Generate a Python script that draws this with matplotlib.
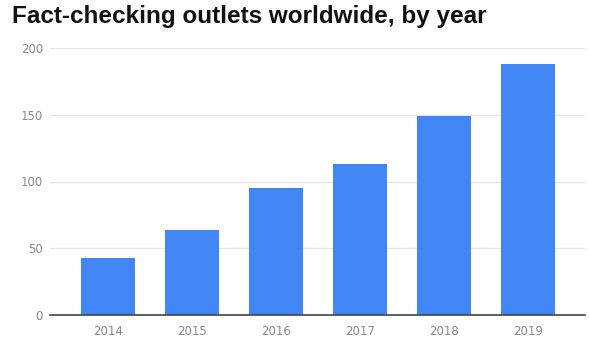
import matplotlib.pyplot as plt

years = ['2014', '2015', '2016', '2017', '2018', '2019']
outlets = [43, 64, 95, 113, 149, 188]
yticks = [0, 50, 100, 150, 200]

fig = plt.figure(figsize=(5.89, 3.40), dpi=100)
ax = fig.add_axes([50/589, 1 - 315/340, 535/589, 267/340])

ax.bar(range(len(years)), outlets, width=0.64, color='#4285f4', zorder=3)

ax.set_xlim(-0.69, 5.68)
ax.set_ylim(0, 200)
ax.set_xticks(range(len(years)))
ax.set_xticklabels(years)
ax.set_yticks(yticks)
ax.tick_params(axis='both', length=0, labelsize=8.5, labelcolor='#8a8a8a')
ax.tick_params(axis='y', pad=5)
ax.tick_params(axis='x', pad=7)
ax.grid(axis='y', color='#e6e6e6', linewidth=1, zorder=0)
for s in ['top', 'right', 'left']:
    ax.spines[s].set_visible(False)
ax.spines['bottom'].set_color('#444444')
ax.spines['bottom'].set_linewidth(1.2)
ax.spines['bottom'].set_zorder(4)

fig.text(12/589, 1 - 17/340, 'Fact-checking outlets worldwide, by year',
         fontsize=17.5, fontweight='bold', family='Liberation Sans',
         color='#111111', va='center', ha='left')

fig.savefig('out.png', dpi=100)
